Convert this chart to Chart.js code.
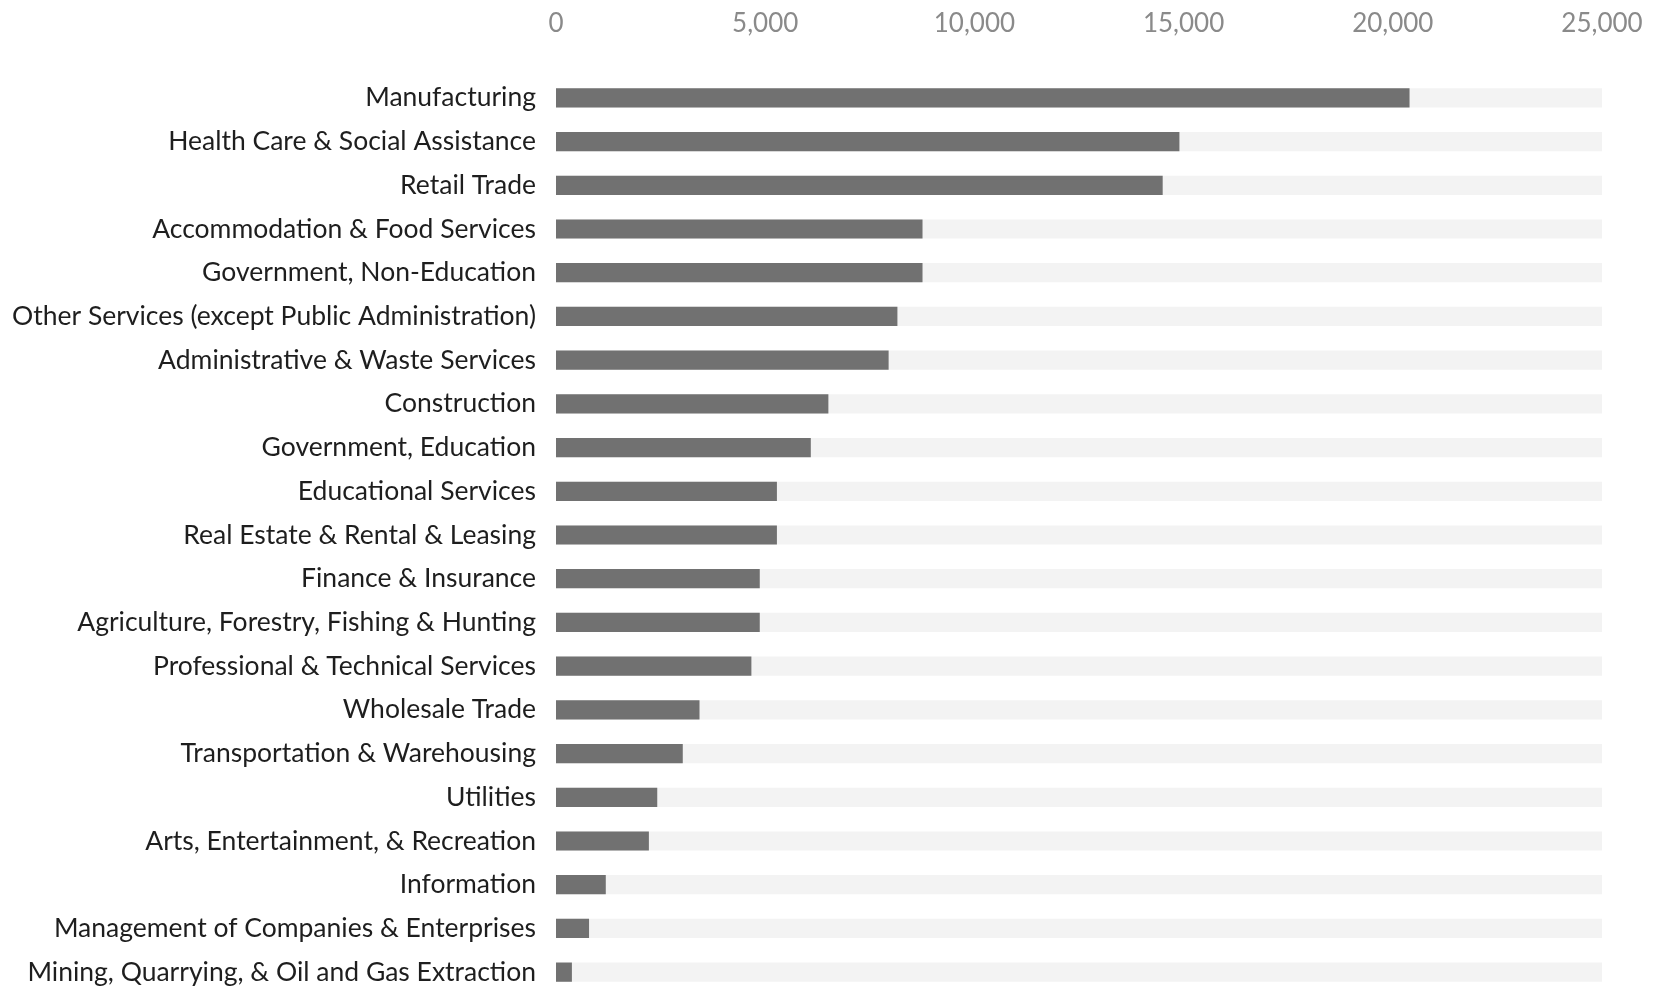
<!DOCTYPE html>
<html>
<head>
<meta charset="utf-8">
<script src="https://cdn.jsdelivr.net/npm/chart.js@4.4.1/dist/chart.umd.min.js"></script>
<style>
    html, body { margin: 0; padding: 0; background: #fff; overflow: hidden; }
    #chartWrapper { position: relative; width: 1655px; height: 994px; }
</style>
</head>
<body>
<div id="chartWrapper"><canvas id="industryChart"></canvas></div>
<script>
// Categories, top to bottom
const industries = [
    'Manufacturing',
    'Health Care & Social Assistance',
    'Retail Trade',
    'Accommodation & Food Services',
    'Government, Non-Education',
    'Other Services (except Public Administration)',
    'Administrative & Waste Services',
    'Construction',
    'Government, Education',
    'Educational Services',
    'Real Estate & Rental & Leasing',
    'Finance & Insurance',
    'Agriculture, Forestry, Fishing & Hunting',
    'Professional & Technical Services',
    'Wholesale Trade',
    'Transportation & Warehousing',
    'Utilities',
    'Arts, Entertainment, & Recreation',
    'Information',
    'Management of Companies & Enterprises',
    'Mining, Quarrying, & Oil and Gas Extraction'
];

// Bar values
const employment = [
    20400, 14900, 14500, 8760, 8760, 8160, 7950, 6510, 6090, 5280, 5280,
    4870, 4870, 4670, 3430, 3030, 2420, 2220, 1190, 790, 380
];

// Faint background track behind each bar
const trackValues = [
    25000, 25000, 25000, 25000, 25000, 25000, 25000, 25000, 25000, 25000, 25000,
    25000, 25000, 25000, 25000, 25000, 25000, 25000, 25000, 25000, 25000
];

// Axis ticks
const tickValues = [0, 5000, 10000, 15000, 20000, 25000];

const chartController = {
    chart: null,

    init() {
        const ctx = document.getElementById('industryChart').getContext('2d');
        this.chart = new Chart(ctx, {
            type: 'bar',
            data: {
                labels: industries,
                datasets: [
                    {
                        label: 'Employment',
                        data: employment,
                        backgroundColor: '#717171',
                        barPercentage: 0.44,
                        categoryPercentage: 1,
                        grouped: false,
                        order: 0
                    },
                    {
                        label: 'Track',
                        data: trackValues,
                        backgroundColor: '#f3f3f3',
                        barPercentage: 0.44,
                        categoryPercentage: 1,
                        grouped: false,
                        order: 1
                    }
                ]
            },
            options: {
                indexAxis: 'y',
                responsive: true,
                maintainAspectRatio: false,
                animation: false,
                layout: { padding: { right: 53, top: 0, bottom: 0, left: 0 } },
                plugins: { legend: { display: false }, tooltip: { enabled: false } },
                scales: {
                    x: {
                        position: 'top',
                        min: tickValues[0],
                        max: tickValues[tickValues.length - 1],
                        afterBuildTicks: (scale) => {
                            scale.ticks = tickValues.map(v => ({ value: v }));
                        },
                        afterFit: (scale) => {
                            // fixed header height, no extra side padding for edge labels
                            scale.height = 76;
                            scale.paddingLeft = 0;
                            scale.paddingRight = 0;
                        },
                        grid: { display: false, drawTicks: false },
                        border: { display: false },
                        ticks: {
                            color: '#8a8a8a',
                            font: { family: 'Lato', size: 26 },
                            padding: 37,
                            maxRotation: 0,
                            callback: (v) => Number(v).toLocaleString('en-US')
                        }
                    },
                    y: {
                        afterFit: (scale) => {
                            scale.width = 556;
                            scale.paddingTop = 0;
                            scale.paddingBottom = 0;
                        },
                        grid: { display: false, drawTicks: false },
                        border: { display: false },
                        ticks: {
                            color: '#1e1e1e',
                            font: { family: 'Lato', size: 26.5 },
                            padding: 20
                        }
                    }
                }
            }
        });
    }
};

document.addEventListener('DOMContentLoaded', () => chartController.init());
</script>
</body>
</html>
